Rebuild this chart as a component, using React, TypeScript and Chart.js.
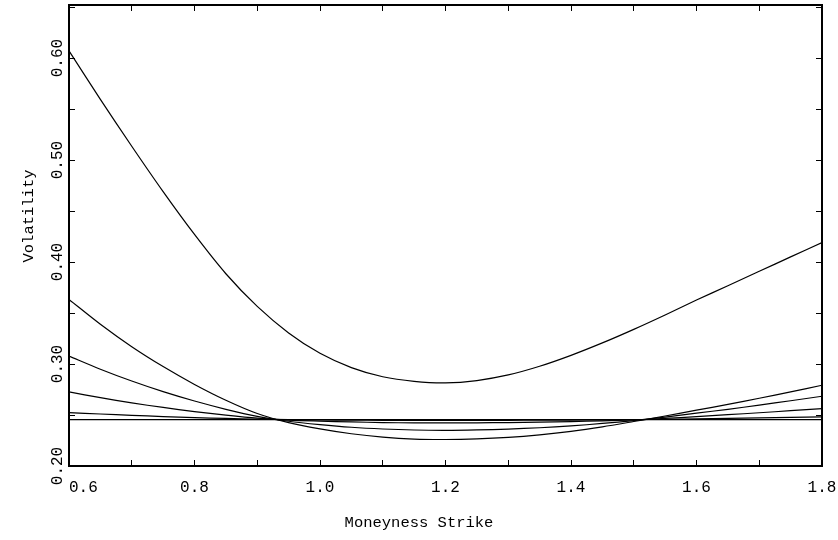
import React, { useEffect, useRef } from "react";
import { Chart, registerables } from "chart.js";

Chart.register(...registerables);

const strikes = [
  0.6, 0.65, 0.7, 0.75, 0.8, 0.85, 0.9, 0.95, 1.0, 1.05, 1.1, 1.15, 1.2,
  1.25, 1.3, 1.35, 1.4, 1.45, 1.5, 1.55, 1.6, 1.65, 1.7, 1.75, 1.8,
];
const volA = [
  0.607, 0.5595, 0.5135, 0.469, 0.427, 0.3885, 0.3565, 0.3305, 0.3105, 0.2965, 0.2875, 0.283, 0.2815,
  0.2838, 0.2893, 0.2978, 0.3085, 0.3207, 0.334, 0.3481, 0.3627, 0.3768, 0.3909, 0.405, 0.4191,
];
const volB = [
  0.3633, 0.339, 0.317, 0.2975, 0.28, 0.2645, 0.2515, 0.2425, 0.2364, 0.2316, 0.2283, 0.2264, 0.226,
  0.2266, 0.2281, 0.2306, 0.234, 0.2384, 0.2436, 0.249, 0.2547, 0.2604, 0.2664, 0.2727, 0.2792,
];
const volC = [
  0.3077, 0.2949, 0.2833, 0.2729, 0.2637, 0.2556, 0.2487, 0.2439, 0.2406, 0.238, 0.2363, 0.2353, 0.235,
  0.2354, 0.2362, 0.2375, 0.2393, 0.2417, 0.2445, 0.2479, 0.2518, 0.2556, 0.2597, 0.264, 0.2684,
];
const volD = [
  0.2726, 0.267, 0.2619, 0.2574, 0.2534, 0.2499, 0.2469, 0.245, 0.244, 0.2432, 0.2426, 0.2423, 0.2422,
  0.2423, 0.2426, 0.243, 0.2436, 0.2443, 0.2452, 0.2466, 0.2484, 0.2503, 0.2522, 0.2542, 0.2563,
];
const volE = [
  0.2524, 0.251, 0.2497, 0.2485, 0.2475, 0.2466, 0.2459, 0.2454, 0.2451, 0.2449, 0.2448, 0.2447, 0.2447,
  0.2447, 0.2448, 0.2449, 0.245, 0.2452, 0.2454, 0.2458, 0.2462, 0.2466, 0.2471, 0.2476, 0.2481,
];
const volF = [
  0.2455, 0.2455, 0.2455, 0.2455, 0.2455, 0.2455, 0.2455, 0.2455, 0.2455, 0.2455, 0.2455, 0.2455, 0.2455,
  0.2455, 0.2455, 0.2455, 0.2455, 0.2455, 0.2455, 0.2455, 0.2455, 0.2455, 0.2455, 0.2455, 0.2455,
];

const xTitle = "Moneyness Strike";
const yTitle = "Volatility";
const xMin = 0.6;
const xMax = 1.8;
const yMin = 0.2;
const yMax = 0.652;

const FONT = '"Liberation Mono", "DejaVu Sans Mono", monospace';

export default function App() {
  const ref = useRef<HTMLCanvasElement | null>(null);

  useEffect(() => {
    if (!ref.current) return;
    const series = [volA, volB, volC, volD, volE, volF];
    const datasets = series.map((vals, i) => ({
      label: "s" + i,
      data: strikes.map((x, j) => ({ x, y: vals[j] })),
      borderColor: "#000",
      borderWidth: 1.2,
      pointRadius: 0,
      fill: false,
      tension: 0.3,
    }));

    const tickFont = { family: FONT, size: 16 };
    const gridCommon = {
      drawOnChartArea: false,
      drawTicks: true,
      tickLength: -6,
      color: "#000",
      tickColor: "#000",
      tickWidth: 1,
    };
    const borderCommon = { display: true, color: "#000", width: 2 };
    const noPadH = (s: any) => {
      s.paddingLeft = 0;
      s.paddingRight = 0;
    };
    const noPadV = (s: any) => {
      s.paddingTop = 0;
      s.paddingBottom = 0;
    };

    const yTitlePlugin = {
      id: "yTitleText",
      afterDraw(chart: any) {
        const ctx = chart.ctx;
        ctx.save();
        ctx.translate(29, 216);
        ctx.rotate(-Math.PI / 2);
        ctx.font = "15.5px " + FONT;
        ctx.fillStyle = "#000";
        ctx.textAlign = "center";
        ctx.textBaseline = "middle";
        ctx.fillText(yTitle, 0, 0);
        ctx.restore();
      },
    };

    const chart = new Chart(ref.current, {
      type: "line",
      data: { datasets },
      plugins: [yTitlePlugin],
      options: {
        animation: false,
        responsive: false,
        maintainAspectRatio: false,
        layout: { padding: 0 },
        plugins: {
          legend: { display: false },
          tooltip: { enabled: false },
          title: {
            display: true,
            text: xTitle,
            position: "bottom",
            color: "#000",
            font: { family: FONT, size: 15.5, weight: "normal" },
            padding: { top: 0, bottom: 7.8 },
          },
        },
        scales: {
          x: {
            type: "linear",
            position: "bottom",
            min: xMin,
            max: xMax,
            grid: gridCommon,
            border: borderCommon,
            ticks: {
              stepSize: 0.1,
              autoSkip: false,
              maxRotation: 0,
              minRotation: 0,
              padding: 18,
              color: "#000",
              font: tickFont,
              includeBounds: false,
              callback: (v: any) => {
                const n = Math.round(Number(v) * 10);
                if (n % 2 !== 0) return "";
                if (n === 6) return "   0.6";
                return (n / 10).toFixed(1);
              },
            },
            afterFit: (s: any) => {
              s.height = 47.6;
              noPadH(s);
            },
          },
          x2: {
            type: "linear",
            position: "top",
            min: xMin,
            max: xMax,
            grid: gridCommon,
            border: borderCommon,
            ticks: { stepSize: 0.1, autoSkip: false, display: false, includeBounds: false },
            afterFit: (s: any) => {
              s.height = 5;
              noPadH(s);
            },
          },
          y: {
            type: "linear",
            position: "left",
            min: yMin,
            max: yMax,
            grid: gridCommon,
            border: borderCommon,
            ticks: {
              stepSize: 0.05,
              autoSkip: false,
              minRotation: 90,
              maxRotation: 90,
              crossAlign: "center",
              padding: -2,
              color: "#000",
              font: tickFont,
              includeBounds: false,
              callback: (v: any) => {
                const n = Math.round(Number(v) * 100);
                if (n % 10 !== 0) return "";
                return (n / 100).toFixed(2);
              },
            },
            afterFit: (s: any) => {
              s.width = 69;
              noPadV(s);
            },
          },
          y2: {
            type: "linear",
            position: "right",
            min: yMin,
            max: yMax,
            grid: gridCommon,
            border: borderCommon,
            ticks: { stepSize: 0.05, autoSkip: false, display: false, includeBounds: false },
            afterFit: (s: any) => {
              s.width = 16;
              noPadV(s);
            },
          },
        },
      },
    } as any);

    return () => chart.destroy();
  }, []);

  return (
    <div style={{ position: "fixed", left: 0, top: 0, width: 838, height: 540, background: "#fff" }}>
      <canvas ref={ref} width={838} height={540} style={{ display: "block" }} />
    </div>
  );
}
